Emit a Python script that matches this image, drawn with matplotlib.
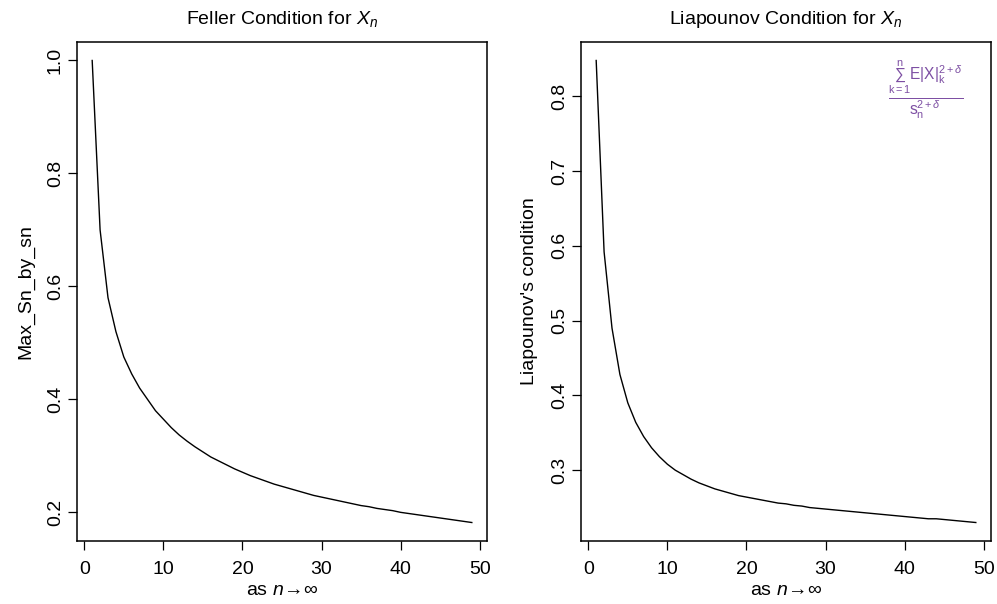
import numpy as np
import matplotlib
matplotlib.use("Agg")
import matplotlib.pyplot as plt

plt.rcParams["font.family"] = ["Liberation Sans", "DejaVu Sans"]
plt.rcParams["mathtext.fontset"] = "custom"
plt.rcParams["mathtext.rm"] = "Liberation Sans"
plt.rcParams["mathtext.sf"] = "Liberation Sans"
plt.rcParams["mathtext.it"] = "Liberation Sans:italic"

n = list(range(1, 50))

max_sn_by_sn = [1.00, 0.70, 0.58, 0.52, 0.475, 0.445, 0.42, 0.40, 0.38, 0.365,
                0.35, 0.337, 0.326, 0.316, 0.307, 0.298, 0.291, 0.284, 0.277, 0.271,
                0.265, 0.260, 0.255, 0.250, 0.246, 0.242, 0.238, 0.234, 0.230, 0.227,
                0.224, 0.221, 0.218, 0.215, 0.212, 0.210, 0.207, 0.205, 0.203, 0.200,
                0.198, 0.196, 0.194, 0.192, 0.190, 0.188, 0.186, 0.184, 0.182]

liapounov = [0.848, 0.592, 0.490, 0.428, 0.390, 0.364, 0.345, 0.330, 0.318, 0.308,
             0.300, 0.294, 0.288, 0.283, 0.279, 0.275, 0.272, 0.269, 0.266, 0.264,
             0.262, 0.260, 0.258, 0.256, 0.255, 0.253, 0.252, 0.250, 0.249, 0.248,
             0.247, 0.246, 0.245, 0.244, 0.243, 0.242, 0.241, 0.240, 0.239, 0.238,
             0.237, 0.236, 0.235, 0.235, 0.234, 0.233, 0.232, 0.231, 0.230]

x_ticks = [0, 10, 20, 30, 40, 50]
left_yticks = [0.2, 0.4, 0.6, 0.8, 1.0]
right_yticks = [0.3, 0.4, 0.5, 0.6, 0.7, 0.8]

fs = 14


def r_style(ax, y, yticks, title, ylabel):
    ax.plot(n, y, color="black", lw=1.0)
    # R pads 4% on each side
    xr = max(n) - min(n)
    ax.set_xlim(min(n) - 0.04 * xr, max(n) + 0.04 * xr)
    yr = max(y) - min(y)
    ax.set_ylim(min(y) - 0.04 * yr, max(y) + 0.04 * yr)
    ax.set_xticks(x_ticks)
    ax.set_yticks(yticks)
    ax.set_yticklabels([f"{t:.1f}" for t in yticks], rotation=90, va="center")
    ax.tick_params(direction="out", length=6.5, width=0.9, labelsize=fs)
    ax.tick_params(axis="x", pad=8)
    ax.tick_params(axis="y", pad=3)
    for s in ax.spines.values():
        s.set_linewidth(1.1)
    ax.set_title(title, fontsize=fs, pad=13)
    ax.set_xlabel(r"as $n\!\rightarrow\!\infty$", fontsize=fs, labelpad=3)
    ax.set_ylabel(ylabel, fontsize=fs, labelpad=9)


fig = plt.figure(figsize=(9.97, 6.04), dpi=100)
ax1 = fig.add_axes([77 / 997, 63 / 604, 410 / 997, 499 / 604])
ax2 = fig.add_axes([581 / 997, 63 / 604, 410 / 997, 499 / 604])

r_style(ax1, max_sn_by_sn, left_yticks, r"Feller Condition for $X_n$", "Max_Sn_by_sn")
r_style(ax2, liapounov, right_yticks, r"Liapounov Condition for $X_n$", "Liapounov's condition")

formula = (r"$\frac{\sum_{\mathrm{k=1}}^{\mathrm{n}}\mathrm{E|X|}_{\mathrm{k}}^{2+\delta}}"
           r"{\mathrm{s}_{\mathrm{n}}^{2+\delta}}$")
ax2.text(0.841, 0.905, formula, transform=ax2.transAxes, ha="center", va="center",
         fontsize=16, color="#7d4fa3")

fig.savefig("out.png", dpi=100)
